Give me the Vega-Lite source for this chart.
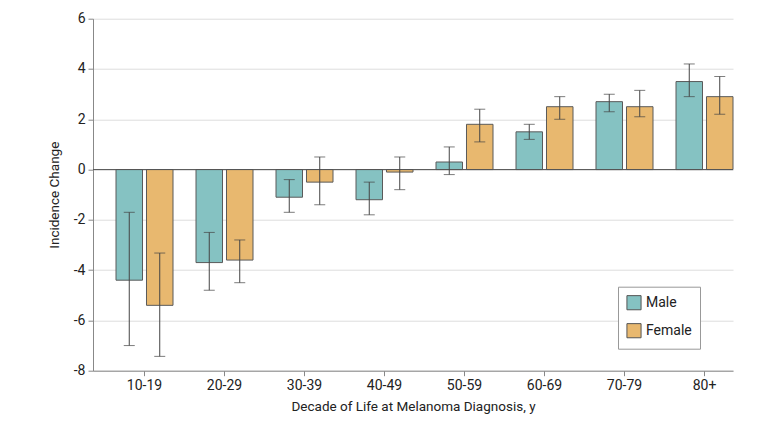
{
  "$schema": "https://vega.github.io/schema/vega-lite/v6.json",
  "width": 640,
  "height": 352,
  "autosize": {"type": "none"},
  "padding": {"left": 93, "top": 18.7, "right": 50, "bottom": 54.3},
  "background": "white",
  "config": {
    "font": "Roboto",
    "view": {"stroke": null},
    "axis": {"labelFont": "Roboto", "titleFont": "Roboto", "labelColor": "#222", "titleColor": "#222", "labelFontSize": 14, "titleFontSize": 13.5, "titleFontWeight": "normal"}
  },
  "datasets": {
    "main": [
      {"decade": "10-19", "sex": "Male", "value": -4.4, "lo": -7.0, "hi": -1.7},
      {"decade": "10-19", "sex": "Female", "value": -5.4, "lo": -7.43, "hi": -3.32},
      {"decade": "20-29", "sex": "Male", "value": -3.7, "lo": -4.8, "hi": -2.5},
      {"decade": "20-29", "sex": "Female", "value": -3.6, "lo": -4.5, "hi": -2.8},
      {"decade": "30-39", "sex": "Male", "value": -1.1, "lo": -1.7, "hi": -0.4},
      {"decade": "30-39", "sex": "Female", "value": -0.5, "lo": -1.4, "hi": 0.5},
      {"decade": "40-49", "sex": "Male", "value": -1.2, "lo": -1.8, "hi": -0.5},
      {"decade": "40-49", "sex": "Female", "value": -0.1, "lo": -0.8, "hi": 0.5},
      {"decade": "50-59", "sex": "Male", "value": 0.3, "lo": -0.2, "hi": 0.9},
      {"decade": "50-59", "sex": "Female", "value": 1.8, "lo": 1.1, "hi": 2.4},
      {"decade": "60-69", "sex": "Male", "value": 1.5, "lo": 1.2, "hi": 1.8},
      {"decade": "60-69", "sex": "Female", "value": 2.5, "lo": 2.0, "hi": 2.9},
      {"decade": "70-79", "sex": "Male", "value": 2.7, "lo": 2.3, "hi": 3.0},
      {"decade": "70-79", "sex": "Female", "value": 2.5, "lo": 2.1, "hi": 3.15},
      {"decade": "80+", "sex": "Male", "value": 3.5, "lo": 2.9, "hi": 4.2},
      {"decade": "80+", "sex": "Female", "value": 2.9, "lo": 2.2, "hi": 3.7}
    ],
    "zero": [{"v": 0}]
  },
  "encoding": {
    "x": {
      "field": "decade", "type": "nominal",
      "sort": ["10-19", "20-29", "30-39", "40-49", "50-59", "60-69", "70-79", "80+"],
      "scale": {"paddingInner": 0.2875, "paddingOuter": 0.14375, "align": 1},
      "axis": {"title": "Decade of Life at Melanoma Diagnosis, y", "labelAngle": 0, "domainColor": "#888", "tickColor": "#888", "tickSize": 5, "labelPadding": 3, "titlePadding": 7}
    },
    "xOffset": {"field": "sex", "type": "nominal", "sort": ["Male", "Female"], "scale": {"paddingInner": 0.131, "paddingOuter": 0}}
  },
  "layer": [
    {
      "data": {"name": "main"},
      "mark": {"type": "bar", "stroke": "#5a5a5a", "strokeWidth": 1},
      "encoding": {
        "y": {
          "field": "value", "type": "quantitative",
          "scale": {"domain": [-8, 6], "nice": false},
          "axis": {"title": "Incidence Change", "values": [-8, -6, -4, -2, 0, 2, 4, 6], "labelExpr": "toString(datum.value)", "gridColor": "#ddd", "domainColor": "#888", "tickColor": "#888", "tickSize": 5, "labelPadding": 3, "titlePadding": 12}
        },
        "color": {
          "field": "sex", "type": "nominal",
          "scale": {"domain": ["Male", "Female"], "range": ["#85C2C2", "#E8B86F"]},
          "legend": {
            "title": null, "orient": "none", "legendX": 525, "legendY": 268,
            "symbolType": "square", "symbolSize": 200, "symbolStrokeColor": "#555", "symbolStrokeWidth": 1,
            "labelFontSize": 14, "labelFont": "Roboto", "labelColor": "#222",
            "strokeColor": "#999", "padding": 8, "rowPadding": 8, "fillColor": "white"
          }
        }
      }
    },
    {
      "data": {"name": "zero"},
      "mark": {"type": "rule", "color": "#555", "strokeWidth": 1},
      "encoding": {"x": null, "xOffset": null, "y": {"field": "v", "type": "quantitative"}}
    },
    {
      "data": {"name": "main"},
      "mark": {"type": "rule", "color": "#444", "strokeWidth": 1},
      "encoding": {
        "y": {"field": "lo", "type": "quantitative"},
        "y2": {"field": "hi"}
      }
    },
    {
      "data": {"name": "main"},
      "mark": {"type": "tick", "color": "#444", "thickness": 1, "size": 11, "orient": "horizontal"},
      "encoding": {"y": {"field": "lo", "type": "quantitative"}}
    },
    {
      "data": {"name": "main"},
      "mark": {"type": "tick", "color": "#444", "thickness": 1, "size": 11, "orient": "horizontal"},
      "encoding": {"y": {"field": "hi", "type": "quantitative"}}
    }
  ]
}
